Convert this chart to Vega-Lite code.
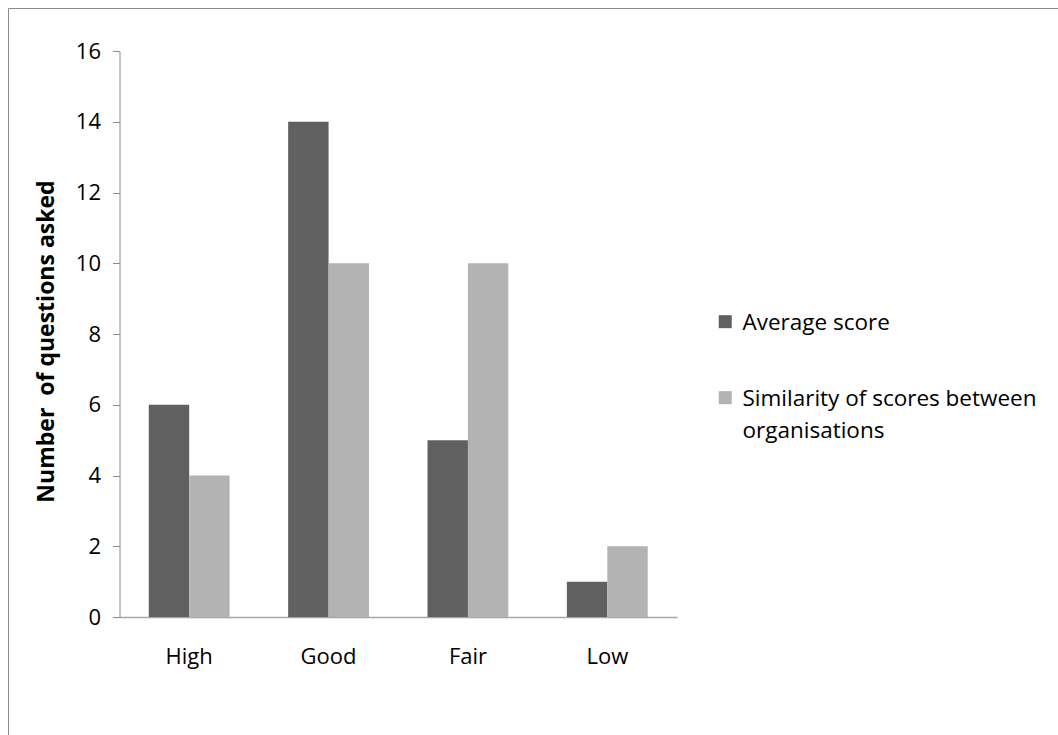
{
  "$schema": "https://vega.github.io/schema/vega-lite/v6.json",
  "autosize": {"type": "none"},
  "padding": {"left": 8, "top": 8, "right": -20, "bottom": -20},
  "width": 1070,
  "height": 747,
  "background": "white",
  "config": {
    "view": {"stroke": "#8a8a8a", "strokeWidth": 1},
    "font": "Open Sans",
    "style": {"guide-label": {"lineHeight": 32}}
  },
  "data": {
    "values": [
      {"rating": "High", "series": "Average score", "questions": 6},
      {"rating": "High", "series": "Similarity of scores between organisations", "questions": 4},
      {"rating": "Good", "series": "Average score", "questions": 14},
      {"rating": "Good", "series": "Similarity of scores between organisations", "questions": 10},
      {"rating": "Fair", "series": "Average score", "questions": 5},
      {"rating": "Fair", "series": "Similarity of scores between organisations", "questions": 10},
      {"rating": "Low", "series": "Average score", "questions": 1},
      {"rating": "Low", "series": "Similarity of scores between organisations", "questions": 2}
    ]
  },
  "mark": {"type": "bar"},
  "encoding": {
    "x": {
      "field": "rating",
      "type": "nominal",
      "sort": ["High", "Good", "Fair", "Low"],
      "scale": {"range": [111.5, 669], "paddingInner": 0.42, "paddingOuter": 0.21},
      "axis": {
        "title": null,
        "offset": -138,
        "labelAngle": 0,
        "ticks": false,
        "labelPadding": 29,
        "labelFontSize": 22,
        "labelColor": "#000000",
        "labelFont": "Open Sans",
        "domainColor": "#a6a6a6",
        "domainWidth": 1.5
      }
    },
    "xOffset": {
      "field": "series",
      "type": "nominal",
      "sort": ["Average score", "Similarity of scores between organisations"]
    },
    "y": {
      "field": "questions",
      "type": "quantitative",
      "scale": {"domain": [0, 16], "range": [609, 43], "nice": false, "zero": true},
      "axis": {
        "title": "Number \u00a0of questions asked",
        "titleFont": "Open Sans",
        "titleFontSize": 23,
        "titleFontWeight": "bold",
        "titleColor": "#000000",
        "titlePadding": 17,
        "titleY": 333,
        "offset": -111.5,
        "values": [0, 2, 4, 6, 8, 10, 12, 14, 16],
        "grid": false,
        "tickSize": 7,
        "tickColor": "#8a8a8a",
        "domainColor": "#8a8a8a",
        "labelPadding": 12,
        "labelFontSize": 22,
        "labelColor": "#000000",
        "labelFont": "Open Sans"
      }
    },
    "color": {
      "field": "series",
      "type": "nominal",
      "sort": ["Average score", "Similarity of scores between organisations"],
      "scale": {"range": ["#606060", "#b3b3b3"]},
      "legend": {
        "title": null,
        "orient": "none",
        "legendX": 706,
        "legendY": 293,
        "padding": 0,
        "symbolType": "M-1,0.45H1V2.45H-1Z",
        "symbolSize": 169,
        "symbolStrokeWidth": 0,
        "labelBaseline": "top",
        "labelFont": "Open Sans",
        "labelFontSize": 22.5,
        "labelColor": "#000000",
        "labelLimit": 400,
        "labelOffset": 6,
        "rowPadding": 42,
        "labelExpr": "datum.label == 'Average score' ? 'Average score' : ['Similarity of scores between', 'organisations']"
      }
    }
  }
}
